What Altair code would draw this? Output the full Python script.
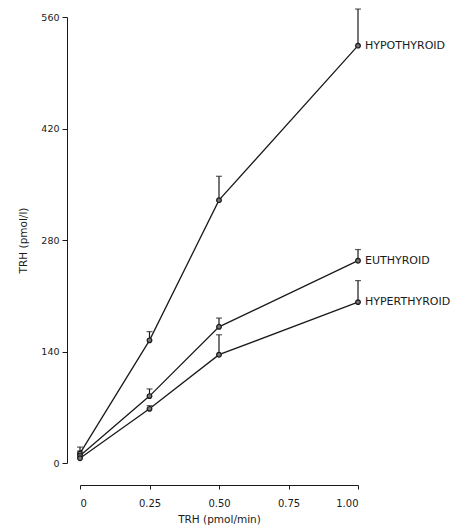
import altair as alt
import pandas as pd

doses = [0, 0.25, 0.5, 1.0]
groups = ["HYPOTHYROID", "EUTHYROID", "HYPERTHYROID"]
hypo = [12, 154, 330, 524]
hypo_up = [20, 165, 360, 570]
eu = [9, 84, 171, 254]
eu_up = [15, 93, 182, 268]
hyper = [6, 68, 136, 202]
hyper_up = [12, 72, 161, 229]

rows = []
for g, vals, ups in [(groups[0], hypo, hypo_up), (groups[1], eu, eu_up), (groups[2], hyper, hyper_up)]:
    for d, v, u in zip(doses, vals, ups):
        rows.append({"group": g, "dose": d, "trh": v, "upper": u})
df = pd.DataFrame(rows)
last = df[df["dose"] == 1.0]

ink = "#1a1a1a"
font = "DejaVu Sans"

x = alt.X("dose:Q", scale=alt.Scale(domain=[0, 1], nice=False, zero=False),
          axis=alt.Axis(values=[0, 0.25, 0.5, 0.75, 1.0],
                        labelExpr="datum.value == 0 ? '0' : format(datum.value, '.2f')",
                        title="TRH (pmol/min)", offset=22, grid=False, domainColor=ink, tickColor=ink,
                        tickSize=4, labelFont=font, labelFontSize=10, labelColor=ink, labelPadding=9,
                        titleFont=font, titleFontSize=10.5, titleFontWeight="normal", titleColor=ink,
                        titlePadding=6))
y = alt.Y("trh:Q", scale=alt.Scale(domain=[0, 560], nice=False),
          axis=alt.Axis(values=[0, 140, 280, 420, 560], title="TRH (pmol/l)", offset=13, grid=False,
                        domainColor=ink, tickColor=ink, tickSize=5, labelFont=font, labelFontSize=9.5,
                        labelColor=ink, labelPadding=3, titleFont=font, titleFontSize=10.5,
                        titleFontWeight="normal", titleColor=ink, titlePadding=12))

base = alt.Chart(df)
lines = base.mark_line(color=ink, strokeWidth=1.3).encode(x=x, y=y, detail="group:N")
err = base.mark_rule(color=ink, strokeWidth=1.2).encode(x="dose:Q", y="trh:Q", y2="upper:Q")
caps = base.mark_tick(color=ink, thickness=1.2, size=6, orient="horizontal").encode(x="dose:Q", y="upper:Q")
pts = base.mark_point(filled=True, fill="#777", stroke=ink, strokeWidth=1.2, size=22, opacity=1).encode(
    x="dose:Q", y="trh:Q")
labels = alt.Chart(last).mark_text(align="left", dx=7, font=font, fontSize=11, color=ink).encode(
    x="dose:Q", y="trh:Q", text="group:N")

chart = alt.layer(lines, err, caps, pts, labels).properties(
    width=278, height=446,
    background="white",
    autosize=alt.AutoSizeParams(type="none"),
    padding={"left": 80, "top": 17, "right": 108, "bottom": 65},
).configure_view(strokeWidth=0, stroke=None)

chart.save("out.html", embed_options={"renderer": "svg", "actions": False})
